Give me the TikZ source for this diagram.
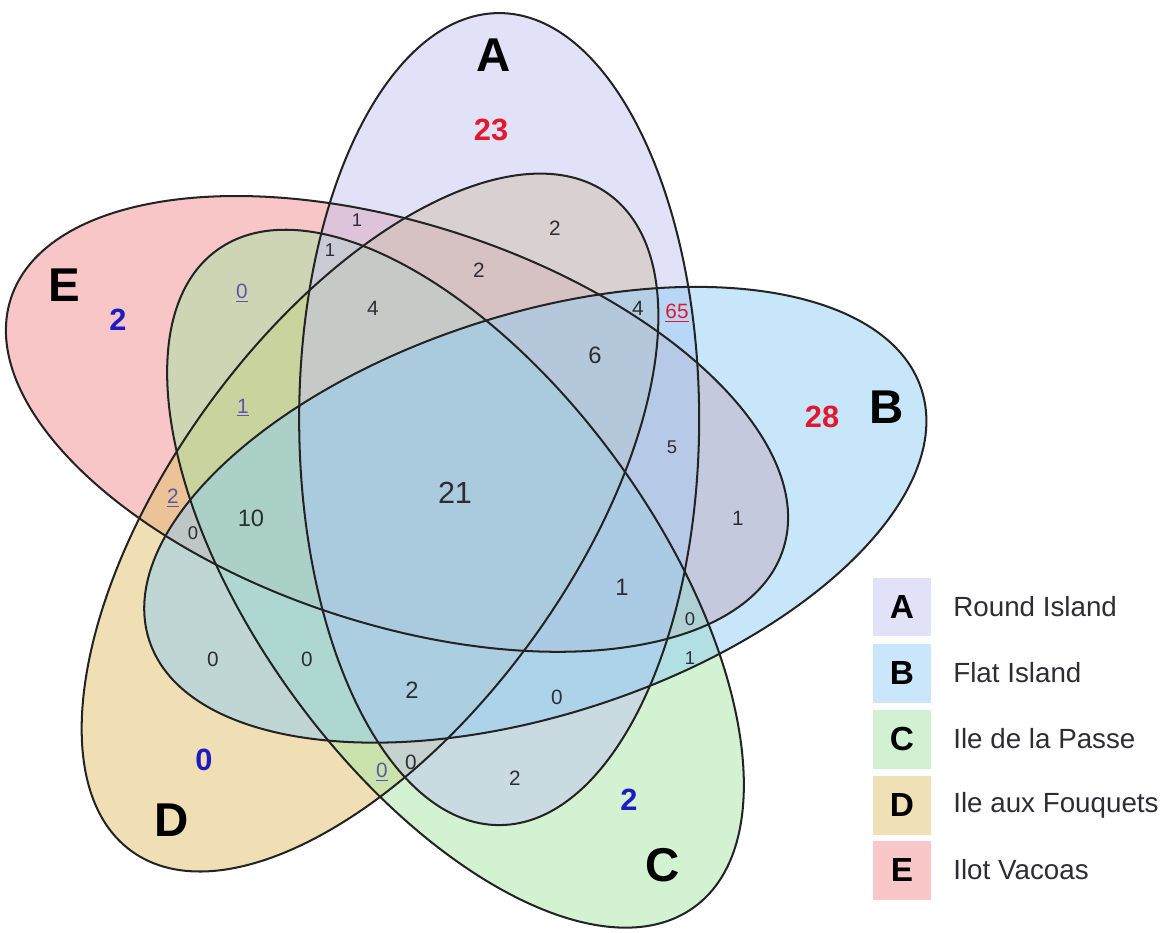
\documentclass[tikz,border=0pt]{standalone}
\usepackage{fontspec}
\setmainfont{Liberation Sans}

% fill colours of the five sets (laid down at half opacity)
\definecolor{fillA}{RGB}{195,195,241}
\definecolor{fillB}{RGB}{145,205,245}
\definecolor{fillC}{RGB}{165,229,165}
\definecolor{fillD}{RGB}{225,191,105}
\definecolor{fillE}{RGB}{241,141,141}
% key swatches
\definecolor{keyA}{RGB}{225,225,248}
\definecolor{keyB}{RGB}{202,230,250}
\definecolor{keyC}{RGB}{210,241,210}
\definecolor{keyD}{RGB}{240,224,182}
\definecolor{keyE}{RGB}{249,199,199}
% ink
\definecolor{outline}{RGB}{35,35,35}
\definecolor{numred}{RGB}{226,24,44}
\definecolor{numblue}{RGB}{28,28,196}
\definecolor{linkblue}{RGB}{88,88,172}
\definecolor{numgray}{RGB}{45,45,52}

\tikzset{
  setline/.style={draw=outline, line width=1.15pt},
  setletter/.style={font=\fontsize{27}{27}\selectfont\bfseries, text=black, inner sep=0pt},
  onlycount/.style={font=\fontsize{17.5}{17.5}\selectfont\bfseries, inner sep=0pt},
  num/.style={font=\fontsize{11.8}{11.8}\selectfont, text=numgray, inner sep=0pt},
  numsmall/.style={font=\fontsize{10.5}{10.5}\selectfont, text=numgray, inner sep=0pt},
  numbig/.style={font=\fontsize{13.5}{13.5}\selectfont, text=numgray, inner sep=0pt},
  numlink/.style={font=\fontsize{11.8}{11.8}\selectfont, text=linkblue, inner sep=0pt},
  keybox/.style={minimum width=1.16cm, minimum height=1.18cm, inner sep=0pt,
                 font=\fontsize{19}{19}\selectfont\bfseries, text=black},
  keytext/.style={anchor=west, inner sep=0pt, font=\fontsize{15.8}{15.8}\selectfont, text=numgray}
}

\begin{document}
\begin{tikzpicture}[x=0.02cm, y=-0.02cm]
\useasboundingbox (0,0) rectangle (1167,933);

% five congruent ellipses, each turned 72 degrees from the last about a common centre
% (0 = A, 1 = B, 2 = C, 3 = D, 4 = E, going clockwise)
\begin{scope}[shift={(451.4,491.8)}]
  \foreach \k/\c in {4/fillE,3/fillD,2/fillC,0/fillA,1/fillB}
    \fill[\c, fill opacity=0.5, rotate=-72*\k] (-56.7:87) ellipse [x radius=200, y radius=406];
  \foreach \k in {0,...,4}
    \draw[setline, rotate=-72*\k] (-56.7:87) ellipse [x radius=200, y radius=406];
\end{scope}

% set letters
\node[setletter] (labA) at (494,55) {A};
\node[setletter] (labB) at (887,407) {B};
\node[setletter] (labC) at (663,865) {C};
\node[setletter] (labD) at (172,820) {D};
\node[setletter] (labE) at (64,285) {E};

% counts found on one island only
\node[onlycount, text=numred]  (onlyA) at (491,130) {23};
\node[onlycount, text=numred]  (onlyB) at (822,417) {28};
\node[onlycount, text=numblue] (onlyC) at (629,800) {2};
\node[onlycount, text=numblue] (onlyD) at (204,760) {0};
\node[onlycount, text=numblue] (onlyE) at (118,320) {2};

% counts in the overlaps
\node[numsmall] (r01) at (357,220) {1};
\node[numsmall] (r02) at (330,250) {1};
\node[num]      (r03) at (555,228) {2};
\node[num]      (r04) at (479,270) {2};
\node[num]      (r05) at (373,308) {4};
\node[num]      (r06) at (638,308) {4};
\node[numlink, text=numred] (r07) at (677,313) {\underline{65}};
\node[numbig]   (r08) at (595,355) {6};
\node[numlink]  (r09) at (242,293) {\underline{0}};
\node[numlink]  (r10) at (243,408) {\underline{1}};
\node[numlink]  (r11) at (173,498) {\underline{2}};
\node[numsmall] (r12) at (193,533) {0};
\node[numbig]   (r13) at (251,518) {10};
\node[font=\fontsize{17.4}{17.4}\selectfont, text=numgray, inner sep=0pt] (r14) at (455,493) {21};
\node[numsmall] (r15) at (672,447) {5};
\node[num]      (r16) at (738,518) {1};
\node[numbig]   (r17) at (622,587) {1};
\node[numsmall] (r18) at (690,619) {0};
\node[numsmall] (r19) at (690,658) {1};
\node[num]      (r20) at (557,697) {0};
\node[numbig]   (r21) at (412,690) {2};
\node[num]      (r22) at (213,659) {0};
\node[num]      (r23) at (307,659) {0};
\node[num]      (r24) at (411,762) {0};
\node[numlink]  (r25) at (382,772) {\underline{0}};
\node[num]      (r26) at (515,778) {2};

% key
\node[keybox, fill=keyA] (keyA) at (902,607) {A};
\node[keybox, fill=keyB] (keyB) at (902,673) {B};
\node[keybox, fill=keyC] (keyC) at (902,739) {C};
\node[keybox, fill=keyD] (keyD) at (902,805) {D};
\node[keybox, fill=keyE] (keyE) at (902,870) {E};
\node[keytext] (nameA) at (953,607) {Round Island};
\node[keytext] (nameB) at (953,673) {Flat Island};
\node[keytext] (nameC) at (953,739) {Ile de la Passe};
\node[keytext] (nameD) at (953,805) {Ile aux Fouquets};
\node[keytext] (nameE) at (953,870) {Ilot Vacoas};
\end{tikzpicture}
\end{document}
